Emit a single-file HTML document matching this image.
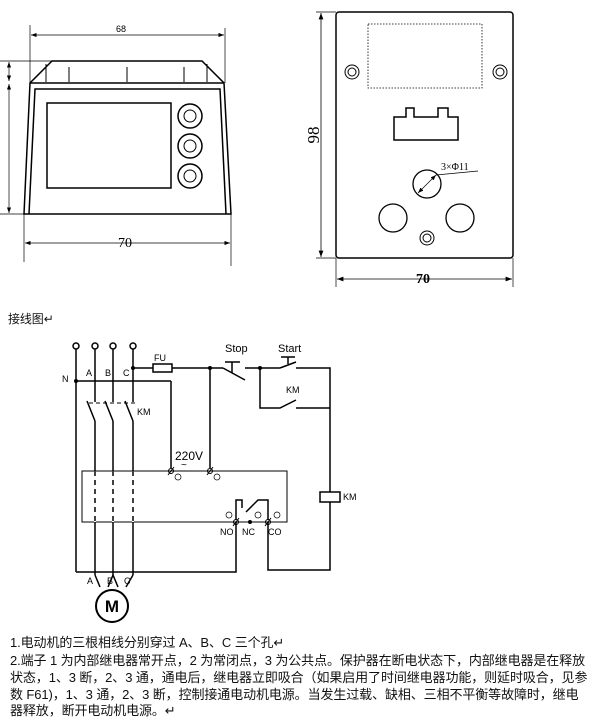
<!DOCTYPE html>
<html><head><meta charset="utf-8"><style>
body{margin:0;background:#fff;width:603px;height:720px;overflow:hidden;position:relative;font-family:"Liberation Sans","Noto Sans CJK SC",sans-serif}
.t{position:absolute;left:10px;font-size:13px;color:#111;white-space:nowrap;letter-spacing:-0.1px}
</style></head><body>
<svg width="603" height="720" style="position:absolute;left:0;top:0" font-family="Liberation Sans, sans-serif">
<defs><marker id="a" markerWidth="8" markerHeight="6" refX="8" refY="3" orient="auto-start-reverse"><path d="M0,0L8,3L0,6z" fill="#000"/></marker></defs>
<g stroke="#000" fill="none" stroke-width="1">
<path d="M24,214 L30,83 L52,61 L202,61 L224,83 L231,214 Z" stroke-width="1.5"/>
<line x1="30" y1="83" x2="224" y2="83" stroke-width="1.5"/>
<path d="M29,214 L35,89 L220,89 L226,214" stroke-width="1.5"/>
<rect x="47" y="103" width="124" height="85" stroke-width="1.5"/>
<circle cx="190" cy="116" r="12" stroke-width="1.5"/><circle cx="190" cy="116" r="6"/>
<circle cx="190" cy="146" r="12" stroke-width="1.5"/><circle cx="190" cy="146" r="6"/>
<circle cx="190" cy="176" r="12" stroke-width="1.5"/><circle cx="190" cy="176" r="6"/>
<line x1="46" y1="64" x2="46" y2="82"/><line x1="69" y1="67" x2="69" y2="82"/><line x1="127" y1="67" x2="127" y2="82"/><line x1="184" y1="67" x2="184" y2="82"/><line x1="207" y1="64" x2="207" y2="82"/>
<line x1="30" y1="25" x2="30" y2="83" stroke-width="0.7"/><line x1="225" y1="28" x2="225" y2="83" stroke-width="0.7"/>
<line x1="31" y1="35" x2="224" y2="35" marker-start="url(#a)" marker-end="url(#a)" stroke-width="0.7"/>
<line x1="24" y1="214" x2="24" y2="262" stroke-width="0.7"/><line x1="231" y1="214" x2="231" y2="266" stroke-width="0.7"/>
<line x1="25" y1="243" x2="230" y2="243" marker-start="url(#a)" marker-end="url(#a)" stroke-width="0.7"/>
<line x1="0" y1="61" x2="52" y2="61" stroke-width="0.7"/><line x1="0" y1="214" x2="24" y2="214" stroke-width="0.7"/>
<line x1="9" y1="62" x2="9" y2="81" marker-start="url(#a)" marker-end="url(#a)" stroke-width="0.7"/>
<line x1="9" y1="84" x2="9" y2="213" marker-start="url(#a)" marker-end="url(#a)" stroke-width="0.7"/>
<rect x="336" y="12" width="177" height="246" rx="3" stroke-width="1.5"/>
<rect x="368" y="24" width="114" height="64" stroke-dasharray="1.5,1.5" stroke-width="0.8"/>
<circle cx="352" cy="72" r="7"/><circle cx="352" cy="72" r="4"/>
<circle cx="500" cy="72" r="7"/><circle cx="500" cy="72" r="4"/>
<circle cx="427" cy="238" r="7"/><circle cx="427" cy="238" r="4"/>
<path d="M394,117 L394,140 L458,140 L458,117 L448,117 L448,108 L438,108 L438,117 L414,117 L414,108 L406,108 L406,117 Z" stroke-width="1.5"/>
<circle cx="427" cy="184" r="14" stroke-width="1.3"/>
<circle cx="393" cy="218" r="14" stroke-width="1.3"/>
<circle cx="460" cy="218" r="14" stroke-width="1.3"/>
<line x1="418" y1="193" x2="436" y2="175" marker-start="url(#a)" marker-end="url(#a)" stroke-width="0.7"/>
<line x1="436" y1="175" x2="478" y2="171" stroke-width="0.7"/>
<line x1="321" y1="13" x2="321" y2="257" marker-start="url(#a)" marker-end="url(#a)" stroke-width="0.8"/>
<line x1="316" y1="12" x2="336" y2="12" stroke-width="0.7"/><line x1="316" y1="258" x2="336" y2="258" stroke-width="0.7"/>
<line x1="336" y1="258" x2="336" y2="287" stroke-width="0.7"/><line x1="513" y1="258" x2="513" y2="287" stroke-width="0.7"/>
<line x1="337" y1="279" x2="512" y2="279" marker-start="url(#a)" marker-end="url(#a)" stroke-width="0.8"/>
<g stroke-width="1.5">
<circle cx="76" cy="346" r="3"/><circle cx="95" cy="346" r="3"/><circle cx="113" cy="346" r="3"/><circle cx="133" cy="346" r="3"/>
<line x1="76" y1="349" x2="76" y2="572"/>
<line x1="76" y1="381" x2="171" y2="381"/><line x1="171" y1="381" x2="171" y2="468"/>
<path d="M95,349 V402 M113,349 V402 M133,349 V402"/>
<path d="M87,401 L95,421 M105,401 L113,421 M125,401 L133,421"/>
<path d="M95,421 V575 M113,421 V575 M133,421 V575"/>
<line x1="133" y1="368" x2="153" y2="368"/><rect x="153" y="364" width="19" height="8"/>
<line x1="172" y1="368" x2="223" y2="368"/>
<path d="M223,368 L245,380 M232,373 V362 M225,362 H240 M245,368 H260 H280 M280,368 L296,362 M296,368 H330 V492 M330,502 V570 H268 V522"/>
<path d="M288,364 V357 M281,357 H295"/>
<path d="M260,368 V408 H280 L296,400 M296,408 H330"/>
<rect x="320" y="492" width="20" height="10"/>
<line x1="210" y1="368" x2="210" y2="468"/>
<path d="M236,522 V572 H76"/>
<path d="M236,520 V500 H242 V508 M246,512 L258,500 H268 V520"/>
<path d="M95,575 L100,587 M113,575 L108,587 M113,575 L118,587 M133,575 L126,587"/>
<circle cx="112" cy="606" r="16" stroke-width="2"/>
</g>
<rect x="82" y="471" width="205" height="51"/>
<path d="M95,471 V522 M113,471 V522 M133,471 V522" stroke="#fff" stroke-width="2"/>
<path d="M95,471 V522 M113,471 V522 M133,471 V522" stroke-dasharray="5,4" stroke-width="1.5"/>
<path d="M89,403 H135" stroke-dasharray="4,3"/>
<circle cx="171" cy="471" r="2.5"/><circle cx="210" cy="471" r="2.5"/>
<circle cx="236" cy="522" r="2.5"/><circle cx="268" cy="522" r="2.5"/>
<path d="M168,475 L174,467 M207,475 L213,467 M233,526 L239,518 M265,526 L271,518"/>
<circle cx="178" cy="477" r="3" stroke-width="0.7"/><circle cx="217" cy="477" r="3" stroke-width="0.7"/>
<circle cx="229" cy="515" r="3" stroke-width="0.7"/><circle cx="258" cy="515" r="3" stroke-width="0.7"/><circle cx="277" cy="515" r="3" stroke-width="0.7"/>
</g>
<g fill="#000">
<circle cx="76" cy="381" r="2"/><circle cx="133" cy="368" r="2"/><circle cx="210" cy="368" r="2"/><circle cx="260" cy="368" r="2"/><circle cx="250" cy="522" r="2"/>
</g>
<g font-size="9" fill="#000">
<text x="116" y="32">68</text>
<text x="118" y="247" font-family="Liberation Serif" font-size="14">70</text>
<text x="416" y="283" font-family="Liberation Serif" font-size="14" font-weight="bold">70</text>
<text x="319" y="135" font-family="Liberation Serif" font-size="17" transform="rotate(-90 319 135)" text-anchor="middle">98</text>
<text x="441" y="170" font-family="Liberation Serif" font-size="10">3×Φ11</text>
<text x="62" y="382" font-size="9">N</text><text x="86" y="376">A</text><text x="105" y="376">B</text><text x="123" y="376">C</text>
<text x="154" y="361">FU</text><text x="225" y="352" font-size="11">Stop</text><text x="278" y="352" font-size="11">Start</text>
<text x="286" y="393">KM</text><text x="137" y="415">KM</text><text x="343" y="500">KM</text>
<text x="175" y="460" font-size="12">220V</text><text x="181" y="468" font-size="10">~</text>
<text x="220" y="535">NO</text><text x="242" y="535">NC</text><text x="268" y="535">CO</text>
<text x="87" y="584">A</text><text x="107" y="584">B</text><text x="124" y="584">C</text>
<text x="112" y="612" font-size="17" font-weight="bold" text-anchor="middle">M</text>
</g>
</svg>
<div class="t" style="top:310px;left:8px;font-size:12px">接线图↵</div>
<div class="t" style="top:632px">1.电动机的三根相线分别穿过 A、B、C 三个孔↵</div>
<div class="t" style="top:650px">2.端子 1 为内部继电器常开点，2 为常闭点，3 为公共点。保护器在断电状态下，内部继电器是在释放</div>
<div class="t" style="top:667px">状态，1、3 断，2、3 通，通电后，继电器立即吸合（如果启用了时间继电器功能，则延时吸合，见参</div>
<div class="t" style="top:684px">数 F61)，1、3 通，2、3 断，控制接通电动机电源。当发生过载、缺相、三相不平衡等故障时，继电</div>
<div class="t" style="top:700px">器释放，断开电动机电源。↵</div>
</body></html>
